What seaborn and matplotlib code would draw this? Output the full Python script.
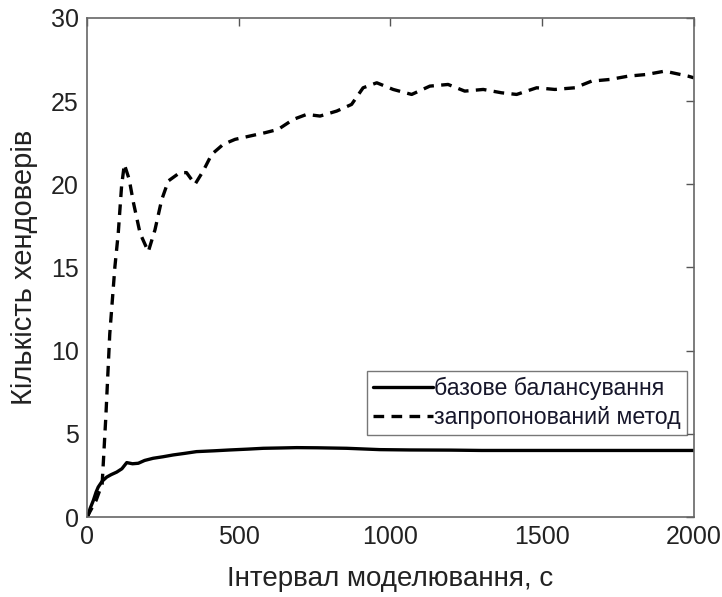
import numpy as np
import pandas as pd
import seaborn as sns
import matplotlib
matplotlib.use("Agg")
import matplotlib.pyplot as plt

# Base balancing: handovers vs simulation interval
base_t = [0, 4, 10, 21, 30, 37, 50, 65, 80, 98, 115, 131, 150, 169, 190, 218, 250, 284, 320, 361,
          420, 471, 530, 581, 640, 691, 760, 856, 965, 1064, 1200, 1300, 1450, 1600, 1800, 2000]
base_n = [0.0, 0.1, 0.5, 1.0, 1.5, 1.8, 2.15, 2.4, 2.55, 2.7, 2.9, 3.27, 3.2, 3.23, 3.4, 3.53, 3.62,
          3.73, 3.82, 3.93, 3.98, 4.03, 4.08, 4.13, 4.15, 4.17, 4.16, 4.13, 4.05, 4.03, 4.02, 4.0,
          4.0, 4.0, 4.0, 4.0]

# Proposed method
prop_t = [0, 30, 50, 62, 75, 92, 103, 114, 123, 139, 153, 175, 202, 224, 246, 268, 306, 328, 356,
          383, 411, 449, 488, 537, 587, 630, 680, 724, 768, 823, 872, 910, 955, 1009, 1070, 1130,
          1190, 1245, 1306, 1366, 1416, 1482, 1542, 1608, 1663, 1723, 1784, 1844, 1904, 1981, 2000]
prop_n = [0.0, 1.0, 2.0, 6.0, 11.0, 15.05, 17.06, 19.9, 21.2, 20.3, 18.9, 17.05, 15.95, 17.26, 19.06,
          20.2, 20.7, 20.7, 20.0, 20.8, 21.8, 22.4, 22.7, 22.9, 23.1, 23.3, 23.9, 24.2, 24.1, 24.4,
          24.8, 25.8, 26.1, 25.7, 25.4, 25.9, 26.0, 25.6, 25.7, 25.5, 25.4, 25.8, 25.7, 25.8, 26.2,
          26.3, 26.5, 26.6, 26.8, 26.5, 26.4]

labels = ["базове балансування", "запропонований метод"]
x_ticks = [0, 500, 1000, 1500, 2000]
y_ticks = [0, 5, 10, 15, 20, 25, 30]

sns.set_theme(style="white")
plt.rcParams["font.family"] = ["Liberation Sans", "DejaVu Sans"]

fig = plt.figure(figsize=(7.22, 5.97), dpi=100)
ax = fig.add_axes([0.1205, 0.134, 0.8405, 0.836])

df_base = pd.DataFrame({"t": base_t, "n": base_n})
df_prop = pd.DataFrame({"t": prop_t, "n": prop_n})
sns.lineplot(data=df_base, x="t", y="n", ax=ax, color="black", lw=2.4, label=labels[0])
sns.lineplot(data=df_prop, x="t", y="n", ax=ax, color="black", lw=2.4, label=labels[1],
             linestyle=(0, (3.2, 2.2)))

ax.set_xlim(0, 2000)
ax.set_ylim(0, 30)
ax.set_xticks(x_ticks)
ax.set_yticks(y_ticks)
ax.tick_params(direction="in", length=6, width=1, color="#555555", labelsize=18,
               top=True, right=True, labelcolor="#222222", pad=6)
for s in ax.spines.values():
    s.set_color("#666666")
    s.set_linewidth(1.2)
ax.set_xlabel("Інтервал моделювання, с", fontsize=20, color="#222222", labelpad=12)
ax.set_ylabel("Кількість хендоверів", fontsize=21, color="#222222", labelpad=9)

leg = ax.legend(loc="lower right", bbox_to_anchor=(0.988, 0.165), fontsize=16.7, frameon=True,
                fancybox=False, edgecolor="#555555", handlelength=2.6, handletextpad=0.05,
                borderpad=0.25, labelspacing=0.25, borderaxespad=0)
leg.get_frame().set_linewidth(1.0)
for t in leg.get_texts():
    t.set_color("#16162a")

fig.savefig("out.png", dpi=100)
